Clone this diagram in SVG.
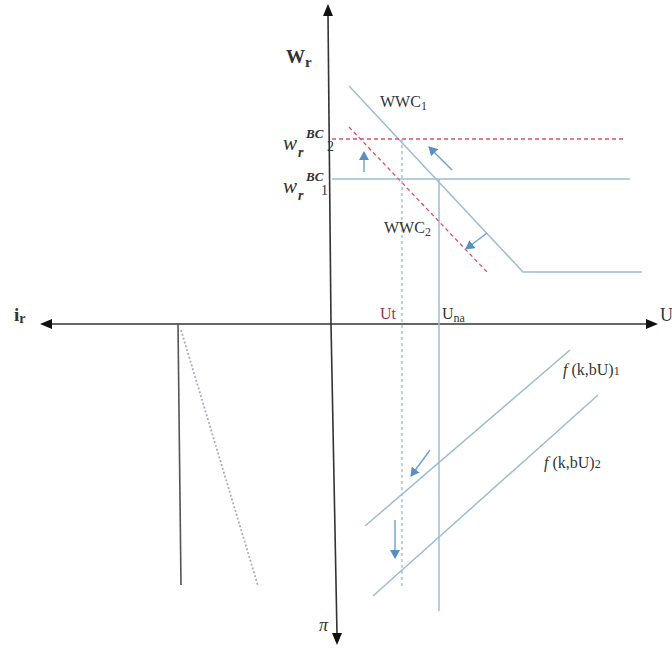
<svg xmlns="http://www.w3.org/2000/svg" width="672" height="648" viewBox="0 0 672 648">
<style>
.ax{stroke:#333;stroke-width:1.6;fill:none}
.bl{stroke:#9dbcd4;stroke-width:1.5;fill:none}
.rd{stroke:#e0506a;stroke-width:1.3;stroke-dasharray:4 3;fill:none}
.bd{stroke:#8fb4d4;stroke-width:1.2;stroke-dasharray:3 3;fill:none}
.ga{stroke:#a8b0b8;stroke-width:1.8;stroke-dasharray:2 2;fill:none}
.ar{stroke:#6fa0cc;stroke-width:1.4;fill:none}
.t{font-family:"Liberation Serif",serif;fill:#333}
</style>
<defs>
<marker id="ah" markerWidth="10" markerHeight="10" refX="8" refY="5" orient="auto" markerUnits="userSpaceOnUse">
<path d="M0,0 L9,5 L0,10 Z" fill="#5b8fc2"/>
</marker>
</defs>
<g id="axes">
<line class="ax" x1="328" y1="14" x2="331" y2="324"/>
<line class="ax" x1="331" y1="324" x2="337" y2="634"/>
<line class="ax" x1="50" y1="324" x2="648" y2="324"/>
<path d="M328,4 L323,16 L333,16 Z" fill="#111"/>
<path d="M337,645 L332,633 L342,633 Z" fill="#111"/>
<path d="M40,324 L52,319 L52,329 Z" fill="#111"/>
<path d="M658,324 L646,319 L646,329 Z" fill="#111"/>
</g>
<g id="connectors">
<line x1="178" y1="324" x2="181" y2="585" stroke="#555" stroke-width="1.6"/>
<line class="ga" x1="181" y1="330" x2="258" y2="586"/>
<polyline class="bl" points="349,86 523,272 642,272"/>
<line class="bl" x1="332" y1="179" x2="630" y2="179"/>
<line class="bl" x1="439" y1="179" x2="439" y2="611"/>
<line class="rd" x1="332" y1="139" x2="624" y2="139"/>
<line class="rd" x1="349" y1="127" x2="487" y2="272"/>
<line class="bd" x1="402" y1="139" x2="402" y2="587"/>
<line class="bl" x1="365" y1="526" x2="570" y2="350"/>
<line class="bl" x1="373" y1="596" x2="598" y2="395"/>
<line class="ar" x1="364" y1="172" x2="364" y2="152" marker-end="url(#ah)"/>
<line class="ar" x1="452" y1="170" x2="429" y2="147" marker-end="url(#ah)"/>
<line class="ar" x1="487" y1="233" x2="466" y2="249" marker-end="url(#ah)"/>
<line class="ar" x1="430" y1="450" x2="411" y2="476" marker-end="url(#ah)"/>
<line class="ar" x1="395" y1="520" x2="395" y2="558" marker-end="url(#ah)"/>
</g>
<g id="labels">
<text class="t" x="286" y="63" font-size="19" font-weight="bold">W<tspan font-size="15" dy="4">r</tspan></text>
<text class="t" x="380" y="107" font-size="16">WWC<tspan font-size="12" dy="3">1</tspan></text>
<text class="t" x="384" y="233" font-size="16">WWC<tspan font-size="12" dy="3">2</tspan></text>
<g id="wbc2">
<text class="t" x="283" y="150" font-size="21" font-style="italic">w</text>
<text class="t" x="298" y="157" font-size="14" font-style="italic" font-weight="bold">r</text>
<text class="t" x="306" y="138" font-size="13" font-style="italic" font-weight="bold">BC</text>
<text class="t" x="327" y="151" font-size="14">2</text>
</g>
<g id="wbc1">
<text class="t" x="283" y="193" font-size="21" font-style="italic">w</text>
<text class="t" x="298" y="200" font-size="14" font-style="italic" font-weight="bold">r</text>
<text class="t" x="306" y="181" font-size="13" font-style="italic" font-weight="bold">BC</text>
<text class="t" x="321" y="195" font-size="14">1</text>
</g>
<text class="t" x="14" y="321" font-size="19" font-weight="bold">i<tspan font-size="14" dy="2">r</tspan></text>
<text x="380" y="319" font-size="16" font-family="Liberation Serif,serif" fill="#a03050">Ut</text>
<text class="t" x="442" y="319" font-size="16">U<tspan font-size="12" dy="3">na</tspan></text>
<text class="t" x="660" y="321" font-size="18">U</text>
<text class="t" x="563" y="375" font-size="16"><tspan font-style="italic">f</tspan> (k,bU)<tspan font-size="12">1</tspan></text>
<text class="t" x="544" y="468" font-size="16"><tspan font-style="italic">f</tspan> (k,bU)<tspan font-size="12">2</tspan></text>
<text class="t" x="319" y="631" font-size="18" font-style="italic">π</text>
</g>
</svg>
